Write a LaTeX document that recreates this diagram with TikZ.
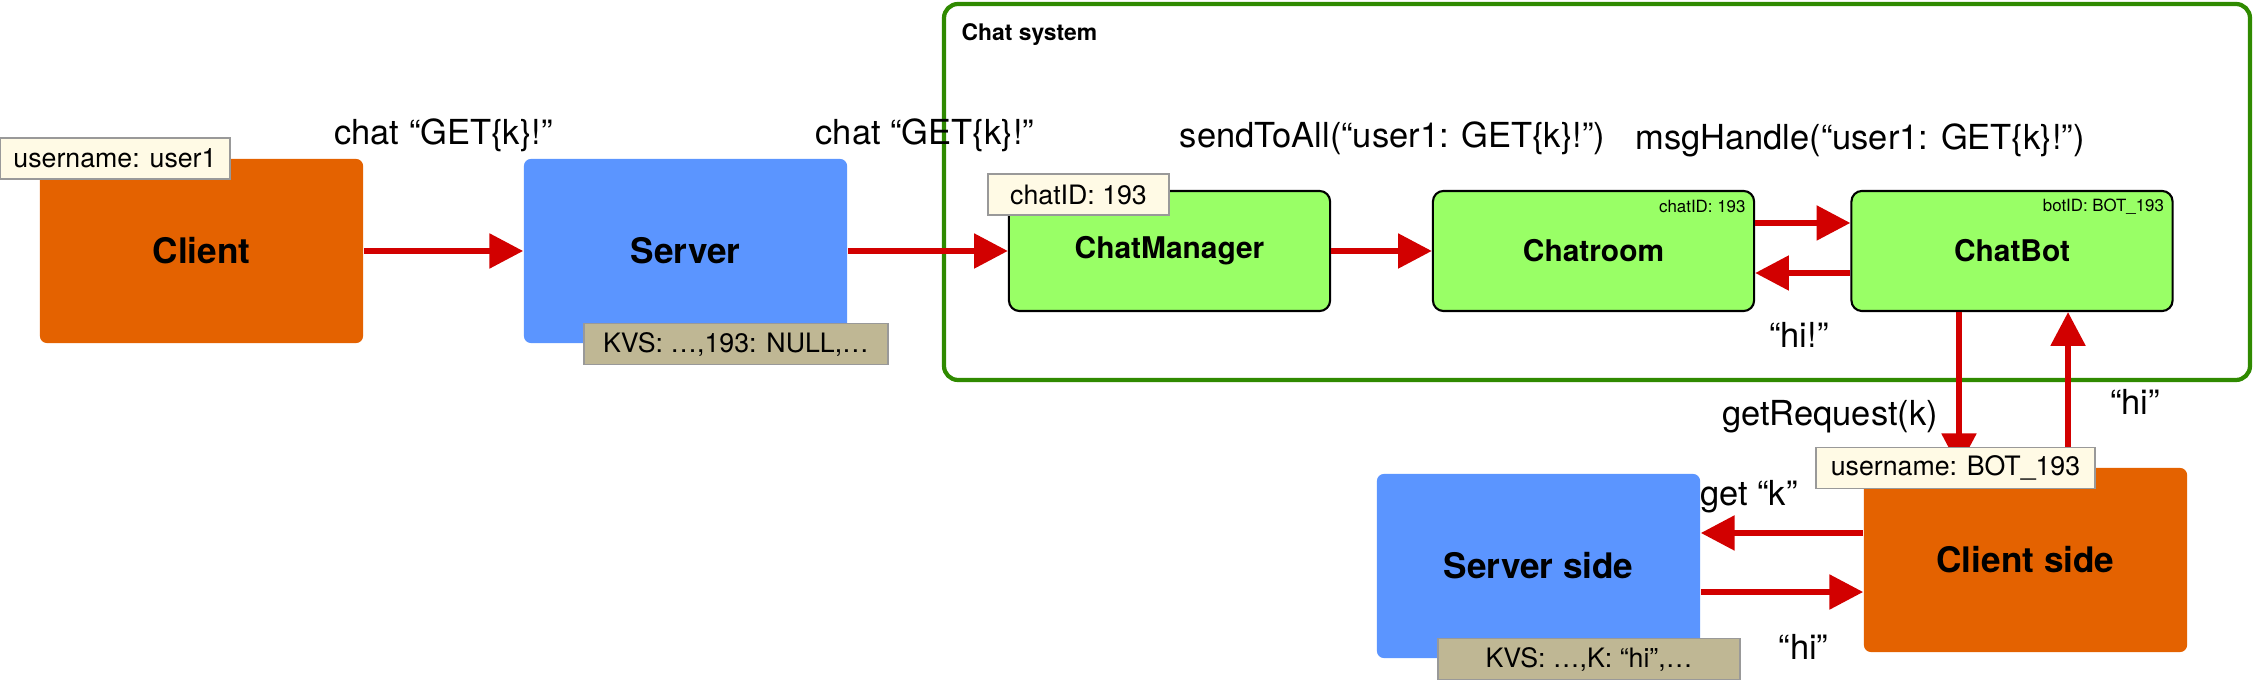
\documentclass[tikz,border=0pt]{standalone}
\usepackage{fontspec}
\setmainfont{TeX Gyre Heros}
\usetikzlibrary{arrows.meta}
\definecolor{clientorange}{RGB}{228,98,0}
\definecolor{serverblue}{RGB}{91,149,255}
\definecolor{chatgreen}{RGB}{153,255,102}
\definecolor{framegreen}{RGB}{47,138,0}
\definecolor{kvstan}{RGB}{191,183,148}
\definecolor{notecream}{RGB}{255,250,229}
\definecolor{arrowred}{RGB}{210,0,0}
\tikzset{
  bigbox/.style={rounded corners=2pt, minimum width=3.23cm, minimum height=1.84cm, font=\fontsize{10}{12}\selectfont\bfseries},
  chatbox/.style={draw=black, line width=0.6pt, fill=chatgreen, rounded corners=3pt, minimum width=3.21cm, minimum height=1.2cm, font=\fontsize{8.5}{10}\selectfont\bfseries},
  note/.style={draw=black!40, line width=0.5pt, fill=notecream, minimum height=0.41cm, inner sep=1pt, font=\fontsize{7.6}{9}\selectfont},
  kvs/.style={draw=black!40, line width=0.5pt, fill=kvstan, minimum height=0.41cm, inner sep=1pt, font=\fontsize{7.6}{9}\selectfont},
  tiny note/.style={anchor=east, inner sep=0pt, font=\fontsize{4.8}{6}\selectfont},
  msg/.style={inner sep=0pt, font=\fontsize{9.8}{12}\selectfont},
  flow/.style={-{Triangle[length=9.6pt,width=9.6pt]}, line width=1.7pt, draw=arrowred, fill=arrowred}
}
\begin{document}
\begin{tikzpicture}[x=0.01cm,y=-0.01cm]
\useasboundingbox (0,0) rectangle (2254,680);
\draw[framegreen, line width=1.2pt, rounded corners=4pt] (944,4) rectangle (2250,380);
\node[anchor=west, inner sep=0pt, font=\fontsize{6.5}{8}\selectfont\bfseries] (chatsys) at (961,35) {Chat system};

\node[bigbox, fill=clientorange] (client) at (201.5,251) {Client};
\node[bigbox, fill=serverblue] (server) at (685.5,251) {Server};
\node[chatbox] (manager) at (1169.5,251) {ChatManager};
\node[chatbox] (chatroom) at (1593.5,251) {Chatroom};
\node[chatbox] (chatbot) at (2012,251) {ChatBot};
\node[bigbox, fill=serverblue] (serverside) at (1538.5,566) {Server side};
\node[bigbox, fill=clientorange] (clientside) at (2025.5,560) {Client side};

\node[tiny note] (roomid) at ([xshift=-0.09cm,yshift=-0.17cm]chatroom.north east) {chatID: 193};
\node[tiny note] (botid) at ([xshift=-0.09cm,yshift=-0.17cm]chatbot.north east) {botID: BOT\_193};

\draw[flow] (client.east) -- (server.west);
\draw[flow] (server.east) -- (manager.west);
\draw[flow] (manager.east) -- (chatroom.west);
\draw[flow] ([yshift=0.28cm]chatroom.east) -- ([yshift=0.28cm]chatbot.west);
\draw[flow] ([yshift=-0.22cm]chatbot.west) -- ([yshift=-0.22cm]chatroom.east);
\draw[flow] ([xshift=-0.53cm]chatbot.south) -- ([xshift=-0.53cm]chatbot.south |- clientside.north);
\draw[flow] ([xshift=0.56cm]chatbot.south |- clientside.north) -- ([xshift=0.56cm]chatbot.south);
\draw[flow] ([yshift=0.27cm]clientside.west) -- ([yshift=0.27cm]clientside.west -| serverside.east);
\draw[flow] ([yshift=-0.32cm]clientside.west -| serverside.east) -- ([yshift=-0.32cm]clientside.west);

\node[note, minimum width=2.3cm] (userlbl) at (115,158.5) {username: user1};
\node[kvs, minimum width=3.04cm] (kvslbl) at (736,344) {KVS: \dots,193: NULL,\dots};
\node[note, minimum width=1.81cm] (chatidlbl) at (1078.5,194.5) {chatID: 193};
\node[note, minimum width=2.79cm] (botlbl) at (1955.5,468) {username: BOT\_193};
\node[kvs, minimum width=3.02cm] (kvsside) at (1589,659) {KVS: \dots,K: “hi”,\dots};

\node[msg] (chat1) at (443.5,135) {chat “GET\{k\}!”};
\node[msg, anchor=west] (chat2) at (815,135) {chat “GET\{k\}!”};
\node[msg] (sendall) at (1392.5,138) {sendToAll(“user1: GET\{k\}!”)};
\node[msg] (handle) at (1860,140) {msgHandle(“user1: GET\{k\}!”)};
\node[msg] (hiback) at (1799,335) {“hi!”};
\node[msg] (getreq) at (1830,417) {getRequest(k)};
\node[msg] (hiup) at (2135,402) {“hi”};
\node[msg] (getk) at (1749,497) {get “k”};
\node[msg] (hilow) at (1803.5,647) {“hi”};
\end{tikzpicture}
\end{document}
